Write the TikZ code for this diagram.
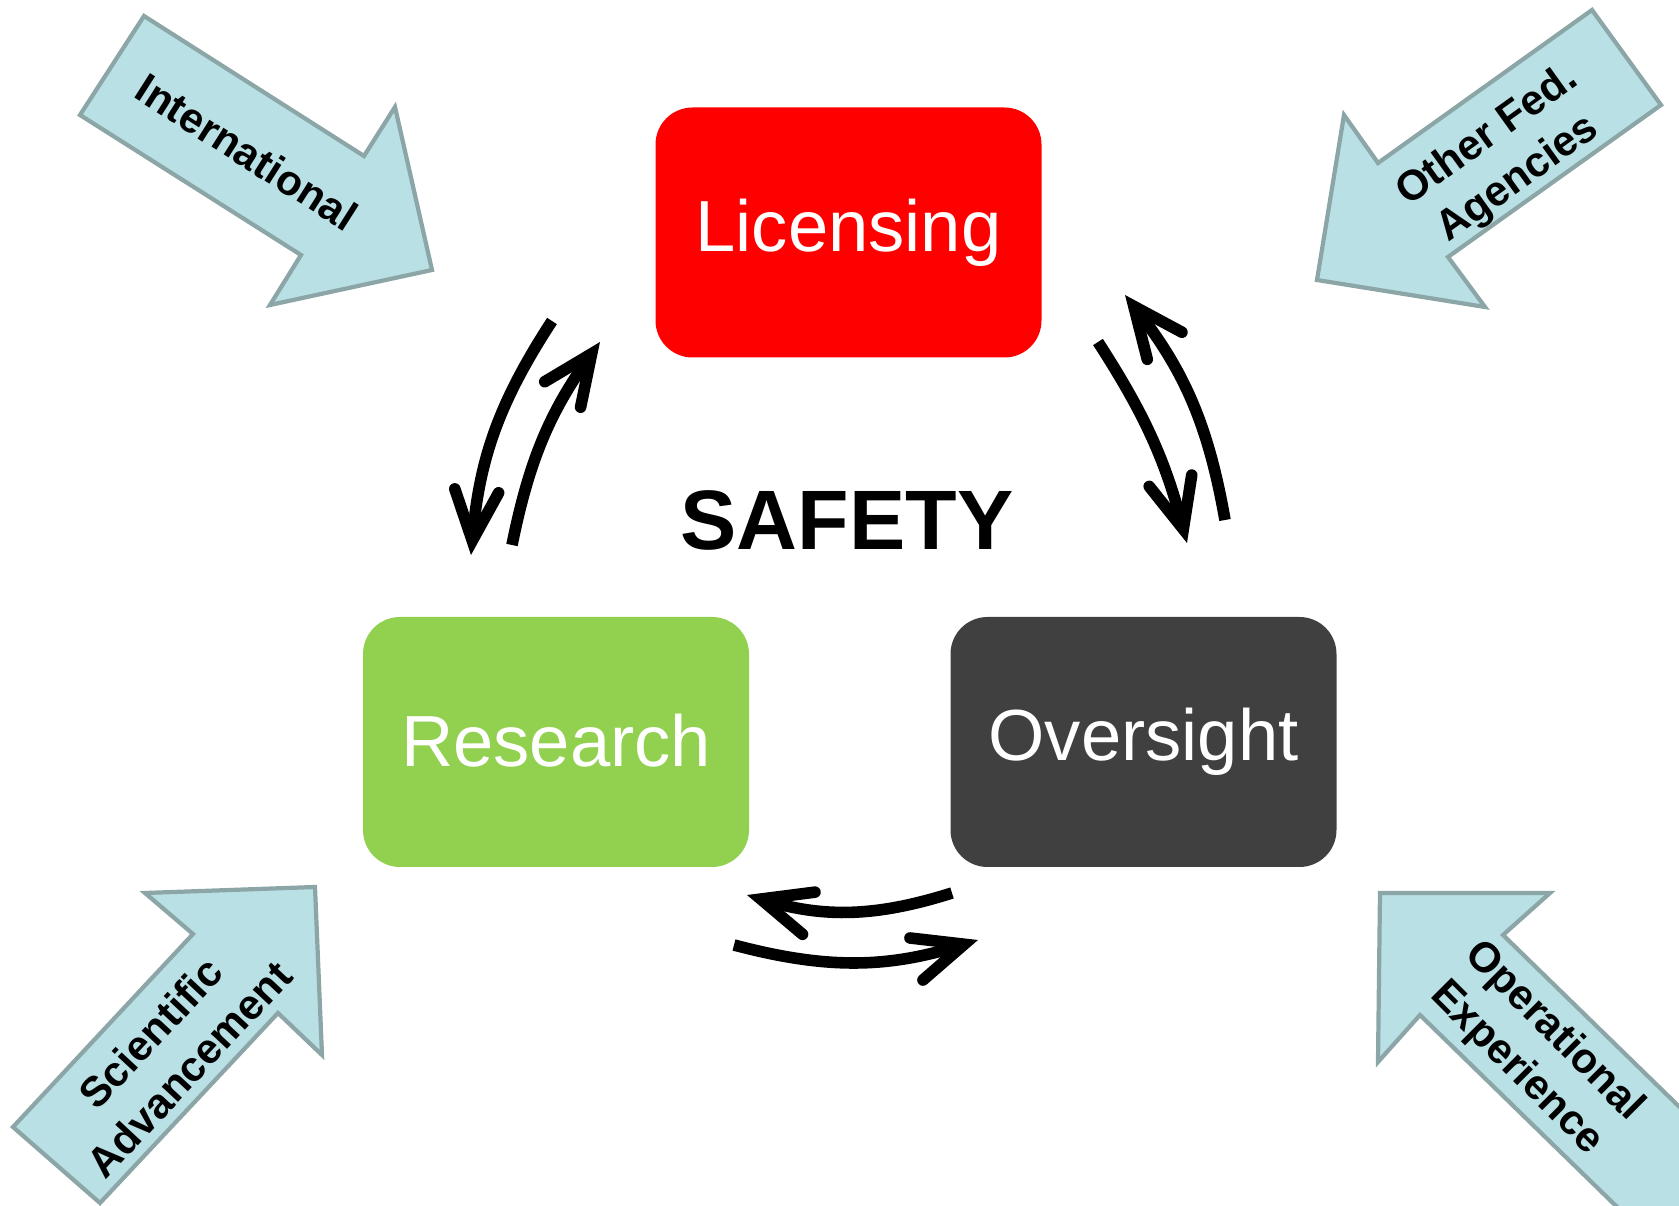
\documentclass[tikz,border=0pt]{standalone}
\usepackage{fontspec}
\setmainfont{Liberation Sans}
\usetikzlibrary{arrows.meta}
\definecolor{licred}{RGB}{255,0,0}
\definecolor{resgreen}{RGB}{146,208,80}
\definecolor{ovgray}{RGB}{64,64,64}
\definecolor{inblue}{RGB}{185,224,228}
\definecolor{inedge}{RGB}{140,166,168}
\begin{document}
\begin{tikzpicture}[
  area/.style={rounded corners=0.37cm,minimum width=3.86cm,minimum height=2.5cm,inner sep=0pt,text=white,font=\fontsize{20.6}{25}\selectfont},
  loopflow/.style={line width=3.3pt,-{Straight Barb[length=5mm,width=4.4mm,line cap=round,line join=miter]}},
  inflow/.style={fill=inblue,draw=inedge,line width=1.2pt},
  inlabel/.style={font=\bfseries\fontsize{12}{15}\selectfont,align=center}]

\useasboundingbox (0,0) rectangle (16.79,12.06);
\clip (0,0) rectangle (16.79,12.06);

\draw [inflow] (1.44,11.90) -- (3.64,10.50) -- (3.95,10.99) -- (4.32,9.36) -- (2.70,9.01) -- (3.01,9.51) -- (0.80,10.91) -- cycle;
\draw [inflow] (15.92,11.96) -- (16.61,11.01) -- (14.48,9.49) -- (14.85,8.99) -- (13.17,9.26) -- (13.44,10.91) -- (13.78,10.43) -- cycle;
\draw [inflow] (0.13,0.79) -- (1.93,2.72) -- (1.45,3.13) -- (3.15,3.19) -- (3.22,1.51) -- (2.78,1.93) -- (1.00,0.03) -- cycle;
\draw [inflow] (13.80,3.13) -- (15.50,3.13) -- (15.03,2.71) -- (17.75,0.06) -- (16.92,-0.74) -- (14.20,1.91) -- (13.78,1.44) -- cycle;
\node [inlabel,rotate=-32.5] (intl) at (2.47,10.54) {International};
\node [inlabel,rotate=35.6] (fed) at (15.03,10.48) {Other Fed.\\Agencies};
\node [inlabel,rotate=47] (sci) at (1.70,1.55) {Scientific\\Advancement};
\node [inlabel,rotate=-45] (opx) at (15.35,1.56) {Operational\\Experience};

\node [area,fill=licred] (lic) at (8.485,9.735) {Licensing};
\node [area,fill=resgreen] (res) at (5.56,4.64) {\raisebox{0.04cm}{Research}};
\node [area,fill=ovgray] (ovs) at (11.435,4.64) {Oversight};
\node [font=\bfseries\fontsize{24}{28}\selectfont] (safety) at (8.47,6.86) {SAFETY};

\coordinate (lr1) at (5.52,8.85);
\coordinate (lr2) at (4.71,6.51);
\coordinate (rl1) at (5.12,6.61);
\coordinate (rl2) at (6.00,8.64);
\coordinate (ol1) at (12.25,6.86);
\coordinate (ol2) at (11.25,9.11);
\coordinate (lo1) at (10.98,8.64);
\coordinate (lo2) at (11.87,6.63);
\coordinate (or1) at (9.52,3.13);
\coordinate (or2) at (7.47,3.11);
\coordinate (ro1) at (7.34,2.61);
\coordinate (ro2) at (9.78,2.66);
\draw [loopflow] (lr1) to[bend right=14] (lr2);
\draw [loopflow] (rl1) to[bend left=12] (rl2);
\draw [loopflow] (ol1) to[bend right=14] (ol2);
\draw [loopflow] (lo1) to[bend left=9] (lo2);
\draw [loopflow] (or1) to[bend left=17] (or2);
\draw [loopflow] (ro1) to[bend right=16] (ro2);
\end{tikzpicture}
\end{document}
